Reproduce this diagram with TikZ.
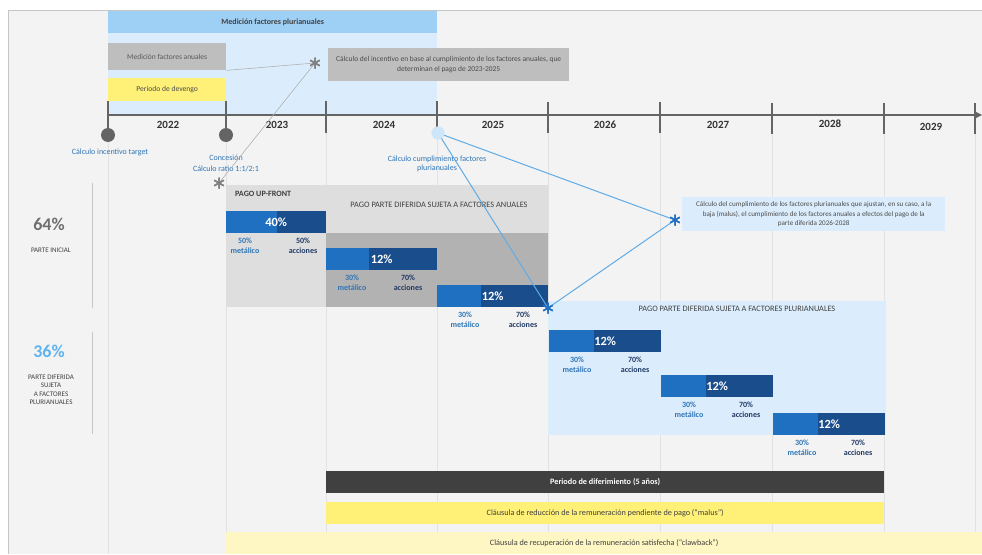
\documentclass[tikz,border=0pt]{standalone}
\usepackage{fontspec}
\setmainfont{Carlito}
\usetikzlibrary{positioning}

\definecolor{bgcol}{RGB}{243,243,243}
\definecolor{colgray}{RGB}{226,226,226}
\definecolor{pluribanner}{RGB}{158,208,246}
\definecolor{plurilight}{RGB}{219,237,252}
\definecolor{boxgray}{RGB}{190,190,190}
\definecolor{boxyellow}{RGB}{255,240,120}
\definecolor{paleyellow}{RGB}{255,247,195}
\definecolor{darkbar}{RGB}{64,64,64}
\definecolor{barmid}{RGB}{31,112,192}
\definecolor{bardark}{RGB}{25,77,140}
\definecolor{lblblue}{RGB}{46,117,182}
\definecolor{navy}{RGB}{31,56,100}
\definecolor{pluriline}{RGB}{95,172,230}
\definecolor{astblue}{RGB}{35,110,195}
\definecolor{linegray}{RGB}{100,100,100}
\definecolor{upgray}{RGB}{222,222,222}
\definecolor{difgray}{RGB}{178,178,178}
\definecolor{pctgray}{RGB}{112,112,112}
\definecolor{pctblue}{RGB}{95,180,240}
\definecolor{dotblue}{RGB}{205,230,250}

\begin{document}
\begin{tikzpicture}[
        x=1pt, y=-1pt,
        >=stealth,
        box/.style={rectangle, inner sep=0pt, anchor=north west, align=center},
        lbl/.style={text=lblblue, font=\fontsize{8}{9.5}\selectfont, align=center, inner sep=0pt},
        year/.style={font=\fontsize{11}{13}\selectfont\bfseries, text=black!80},
        tick/.style={linegray, line width=2.2pt},
        colsep/.style={colgray, line width=0.8pt},
        dot/.style={circle, inner sep=0pt, minimum size=14pt, fill=linegray},
        asterisk/.style={circle, inner sep=0pt, minimum size=13pt,
            path picture={\draw[line width=1.5pt, #1] (path picture bounding box.center)
                +(90:5.5pt) -- +(270:5.5pt) +(30:5.5pt) -- +(210:5.5pt) +(150:5.5pt) -- +(330:5.5pt);}},
        reglbl/.style={font=\fontsize{8.3}{9}\selectfont, text=black!75, inner sep=0pt},
        bar/.style={box, fill=bardark, minimum height=22pt, text=white, font=\fontsize{12.5}{14}\selectfont\bfseries,
            path picture={\fill[barmid] (path picture bounding box.north west) rectangle ([xshift=#1]path picture bounding box.south west);}},
        cash/.style={text=lblblue, font=\fontsize{8}{10.5}\selectfont\bfseries, align=center, inner sep=0pt},
        shares/.style={cash, text=navy},
        connector/.style={pluriline, line width=1pt},
        thinconn/.style={gray!60, line width=0.6pt}
    ]
        % Background and frame
        \useasboundingbox (0,0) rectangle (982,554);
        \fill[white] (0,0) rectangle (982,554);
        \fill[bgcol] (8,10) rectangle (982,554);
        \draw[gray!45, line width=0.8pt] (8,554) -- (8,10) -- (982,10);

        % Column separators
        \draw[colsep] (108,130) -- (108,554);
        \draw[colsep] (226,130) -- (226,554);
        \draw[colsep] (326,130) -- (326,554);
        \draw[colsep] (437,130) -- (437,554);
        \draw[colsep] (548,130) -- (548,554);
        \draw[colsep] (660,130) -- (660,554);
        \draw[colsep] (772,130) -- (772,554);
        \draw[colsep] (884,130) -- (884,554);
        \draw[colsep] (975,130) -- (975,554);
        \draw[gray!45, line width=0.8pt] (92,183) -- (92,308);
        \draw[gray!45, line width=0.8pt] (92,332) -- (92,434);

        % Measurement periods
        \fill[plurilight] (108,33) rectangle (437,115);
        \node (med_pluri) [box, fill=pluribanner, minimum width=329pt, minimum height=22pt,
            font=\fontsize{8}{9}\selectfont\bfseries, text=black!75] at (108,11) {Medición factores plurianuales};
        \node (med_anual) [box, fill=boxgray, minimum width=118pt, minimum height=27pt,
            font=\fontsize{7.5}{8}\selectfont, text=black!65] at (108,43) {Medición factores anuales};
        \node (devengo) [box, fill=boxyellow, minimum width=118pt, minimum height=23pt,
            font=\fontsize{7.6}{8}\selectfont, text=black!70] at (108,78) {Periodo de devengo};
        \node (calc_anual) [box, fill=boxgray, minimum width=241pt, minimum height=33pt,
            font=\fontsize{7.5}{9.5}\selectfont, text=black!70] at (328,48)
            {Cálculo del incentivo en base al cumplimiento de los factores anuales, que\\determinan el pago de 2023-2025};

        % Timeline
        \draw[linegray, line width=2.5pt, ->] (108,115) -- (982,115);
        \draw[tick] (108,101) -- (108,131);
        \draw[tick] (226,101) -- (226,131);
        \draw[tick] (326,101) -- (326,133);
        \draw[tick] (437,101) -- (437,133);
        \draw[tick] (548,102) -- (548,133);
        \draw[tick] (660,102) -- (660,133);
        \draw[tick] (772,103) -- (772,134);
        \draw[tick] (884,103) -- (884,134);
        \draw[tick] (975,103) -- (975,134);
        \node (y2022) [year] at (168,125) {2022};
        \node (y2023) [year] at (277,125) {2023};
        \node (y2024) [year] at (384,125) {2024};
        \node (y2025) [year] at (493,125) {2025};
        \node (y2026) [year] at (605,125) {2026};
        \node (y2027) [year] at (718,125) {2027};
        \node (y2028) [year] at (830,124) {2028};
        \node (y2029) [year] at (931,127) {2029};

        % Milestones
        \node (dot_target) [dot] at (108,135) {};
        \node (dot_concesion) [dot] at (226,135) {};
        \node (dot_pluri) [dot, fill=dotblue, minimum size=13pt] at (438,133) {};
        \node (lbl_target) [lbl] at (110,152) {Cálculo incentivo target};
        \node (lbl_concesion) [lbl, font=\fontsize{8}{11}\selectfont] at (226,163) {Concesión\\Cálculo ratio 1:1/2:1};
        \node (lbl_pluri) [lbl] at (437,164) {Cálculo cumplimiento factores\\plurianuales};

        % Left summary
        \node (pct_inicial) [font=\fontsize{18}{20}\selectfont\bfseries, text=pctgray] at (49,224) {64\%};
        \node (lbl_inicial) [font=\fontsize{7}{8.5}\selectfont, text=black!75] at (51,250) {PARTE INICIAL};
        \node (pct_diferida) [font=\fontsize{18}{20}\selectfont\bfseries, text=pctblue] at (49,351) {36\%};
        \node (lbl_diferida) [font=\fontsize{7}{8.5}\selectfont, text=black!75, align=center] at (51,390)
            {PARTE DIFERIDA\\SUJETA\\A FACTORES\\PLURIANUALES};

        % Payment regions
        \node (reg_upfront) [box, fill=upgray, minimum width=100pt, minimum height=122pt] at (226,185) {};
        \node (reg_anual_top) [box, fill=upgray, minimum width=222pt, minimum height=48pt] at (326,185) {};
        \node (reg_anual) [box, fill=difgray, minimum width=222pt, minimum height=74pt] at (326,233) {};
        \node (reg_pluri) [box, fill=plurilight, minimum width=338pt, minimum height=134pt] at (548,301) {};
        \node (lbl_upfront) [reglbl, font=\fontsize{8.1}{9}\selectfont\bfseries, anchor=west] at (235,194) {PAGO UP-FRONT};
        \node (lbl_anual) [reglbl] at (439,205) {PAGO PARTE DIFERIDA SUJETA A FACTORES ANUALES};
        \node (lbl_pluriregion) [reglbl] at (737,309) {PAGO PARTE DIFERIDA SUJETA A FACTORES PLURIANUALES};

        % Payment bars
        \node (bar_2023) [bar=51pt, minimum width=100pt] at (226,211) {40\%};
        \node (bar_2024) [bar=43pt, minimum width=111pt] at (326,248) {12\%};
        \node (bar_2025) [bar=44pt, minimum width=111pt] at (437,285) {12\%};
        \node (bar_2026) [bar=45pt, minimum width=112pt] at (549,330) {12\%};
        \node (bar_2027) [bar=45pt, minimum width=112pt] at (661,375) {12\%};
        \node (bar_2028) [bar=45pt, minimum width=112pt] at (773,413) {12\%};

        \node (cash_2023) [cash, below=4pt of bar_2023.south west, xshift=19pt] {50\%\\metálico};
        \node (shares_2023) [shares, below=4pt of bar_2023.south west, xshift=77pt] {50\%\\acciones};
        \node (cash_2024) [cash, below=4pt of bar_2024.south west, xshift=26pt] {30\%\\metálico};
        \node (shares_2024) [shares, below=4pt of bar_2024.south west, xshift=82pt] {70\%\\acciones};
        \node (cash_2025) [cash, below=4pt of bar_2025.south west, xshift=28pt] {30\%\\metálico};
        \node (shares_2025) [shares, below=4pt of bar_2025.south west, xshift=86pt] {70\%\\acciones};
        \node (cash_2026) [cash, below=4pt of bar_2026.south west, xshift=28pt] {30\%\\metálico};
        \node (shares_2026) [shares, below=4pt of bar_2026.south west, xshift=86pt] {70\%\\acciones};
        \node (cash_2027) [cash, below=4pt of bar_2027.south west, xshift=28pt] {30\%\\metálico};
        \node (shares_2027) [shares, below=4pt of bar_2027.south west, xshift=85pt] {70\%\\acciones};
        \node (cash_2028) [cash, below=4pt of bar_2028.south west, xshift=29pt] {30\%\\metálico};
        \node (shares_2028) [shares, below=4pt of bar_2028.south west, xshift=85pt] {70\%\\acciones};

        % Deferral and clauses
        \node (bar_diferimiento) [box, fill=darkbar, text=white, minimum width=558pt, minimum height=22pt,
            font=\fontsize{8.2}{9}\selectfont\bfseries] at (326,471) {Periodo de diferimiento (5 años)};
        \node (bar_malus) [box, fill=boxyellow, text=black!75, minimum width=558pt, minimum height=22pt,
            font=\fontsize{8.2}{9}\selectfont] at (326,502) {Cláusula de reducción de la remuneración pendiente de pago (“malus”)};
        \node (bar_clawback) [box, fill=paleyellow, text=black!75, minimum width=756pt, minimum height=22pt,
            font=\fontsize{8.2}{9}\selectfont] at (226,532) {Cláusula de recuperación de la remuneración satisfecha (“clawback”)};

        % Plurianual callout
        \node (calc_pluri) [box, fill=plurilight, minimum width=263pt, minimum height=34pt,
            font=\fontsize{7.1}{9.5}\selectfont, text=black!70] at (682,197)
            {Cálculo del cumplimiento de los factores plurianuales que ajustan, en su caso, a la\\
             baja (malus), el cumplimiento de los factores anuales a efectos del pago de la\\
             parte diferida 2026-2028};

        % Asterisks and connectors
        \node (ast_anual) [asterisk=gray] at (315,63) {};
        \node (ast_concesion) [asterisk=gray] at (219,183) {};
        \node (ast_diferida) [asterisk=astblue] at (548,308) {};
        \node (ast_pluri) [asterisk=astblue] at (675,220) {};

        \draw[thinconn] (med_anual.south east) -- (ast_anual.center);
        \draw[thinconn] (ast_concesion.center) -- (ast_anual.center);
        \draw[connector] (dot_pluri.center) -- (ast_diferida.center);
        \draw[connector] (dot_pluri.center) -- (ast_pluri.center);
        \draw[connector] (ast_diferida.center) -- (ast_pluri.center);
        \node (ast_anual_top) [asterisk=gray] at (ast_anual) {};
        \node (ast_concesion_top) [asterisk=gray] at (ast_concesion) {};
        \node (ast_diferida_top) [asterisk=astblue] at (ast_diferida) {};
        \node (ast_pluri_top) [asterisk=astblue] at (ast_pluri) {};
        \node (dot_pluri_top) [dot, fill=dotblue, minimum size=13pt] at (dot_pluri) {};
    \end{tikzpicture}
\end{document}
